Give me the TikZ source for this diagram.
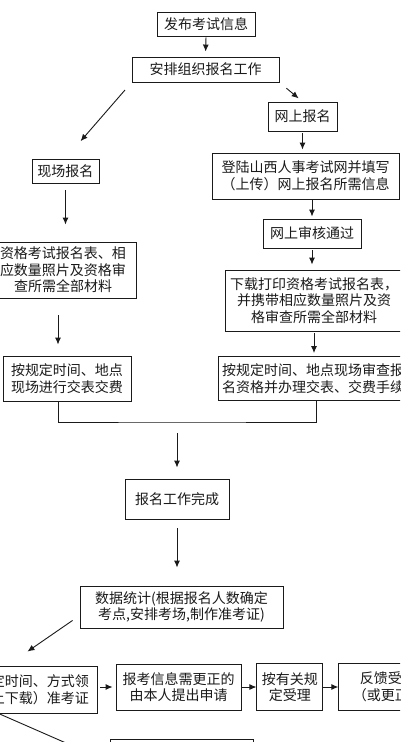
\documentclass[tikz,border=0pt]{standalone}
\usepackage{fontspec}
\usepackage{tikz}
\usetikzlibrary{arrows.meta,positioning,calc}
\newfontfamily\cjk{Noto Sans CJK SC}
\definecolor{Ink}{HTML}{1A1A1A}
\tikzset{
  stepbox/.style={draw=Ink, line width=0.9pt, fill=white, inner sep=0pt, align=center, text=Ink, font=\cjk\fontsize{14}{16.5}\selectfont},
  arr/.style={-{Latex[length=7pt,width=6pt]}, line width=0.9pt, draw=Ink},
  link/.style={line width=0.9pt, draw=Ink}
}

\begin{document}
\begin{tikzpicture}[x=1pt,y=-1pt]
\useasboundingbox (0,0) rectangle (400,742);
\fill[white] (0,0) rectangle (400,742);
\clip (0,0) rectangle (400,742);
% top
\node[stepbox,minimum width=98pt,minimum height=24pt] (pub) at (206,24) {发布考试信息};
\node[stepbox,minimum width=147pt,minimum height=25pt] (plan) at (205.5,69.5) {安排组织报名工作};
% left column
\node[stepbox,minimum width=67pt,minimum height=24pt] (onsite) at (65.5,171) {现场报名};
\node[stepbox,minimum width=146pt,minimum height=56pt] (papers) at (63,270) {资格考试报名表、相\\应数量照片及资格审\\查所需全部材料};
\node[stepbox,minimum width=128pt,minimum height=45pt] (payleft) at (67,378.5) {按规定时间、地点\\现场进行交表交费};
% right column
\node[stepbox,minimum width=69pt,minimum height=29pt] (online) at (302.5,116.5) {网上报名};
\node[stepbox,minimum width=187pt,minimum height=46pt] (login) at (305.5,176) {登陆山西人事考试网并填写\\（上传）网上报名所需信息};
\node[stepbox,minimum width=98pt,minimum height=29pt] (audit) at (312,233.5) {网上审核通过};
\node[stepbox,minimum width=178pt,minimum height=61pt] (print) at (314,300.5) {下载打印资格考试报名表，\\并携带相应数量照片及资\\格审查所需全部材料};
\node[stepbox,minimum width=190pt,minimum height=44pt] (payright) at (313,378.5) {按规定时间、地点现场审查报\\名资格并办理交表、交费手续};
% middle
\coordinate (merge) at (177,422);
\node[stepbox,minimum width=104pt,minimum height=40pt] (done) at (177,499) {报名工作完成};
\node[stepbox,minimum width=203pt,minimum height=42pt] (stats) at (181.5,607) {数据统计(根据报名人数确定\\考点,安排考场,制作准考证)};
% bottom row
\node[stepbox,align=right,minimum width=170pt,minimum height=47pt] (admit) at (12,689.5) {按规定时间、方式领\\取（或网上下载）准考证};
\node[stepbox,minimum width=125pt,minimum height=46pt] (correct) at (178.5,687) {报考信息需更正的\\由本人提出申请};
\node[stepbox,minimum width=66pt,minimum height=47pt,right=15pt of correct] (accept) {按有关规\\定受理};
\node[stepbox,minimum width=126pt,minimum height=47pt,right=15pt of accept] (reply) {反馈受理结果\\（或更正结果）};
\node[stepbox,minimum width=143pt,minimum height=42pt] (next) at (181.5,760) {};
\coordinate (down) at (130,771);

\draw[arr,shorten <=1pt,shorten >=5pt] (pub.south) -- (plan.north);
\draw[arr,shorten <=9pt,shorten >=5pt] (plan.south east) -- (online.north);
\draw[arr,shorten <=10pt,shorten >=23pt] (plan.south west) -- (onsite.north);
\draw[arr,shorten <=7pt,shorten >=17pt] (onsite.south) -- (onsite.south |- papers.north);
\draw[arr,shorten <=17pt,shorten >=11pt] ([xshift=-5pt]papers.south) -- ([xshift=-5pt]papers.south |- payleft.north);
\draw[arr,shorten <=2pt,shorten >=3pt] (online.south) -- (online.south |- login.north);
\draw[arr,shorten <=1pt,shorten >=2pt] (login.south -| audit.north) -- (audit.north);
\draw[arr,shorten <=2pt,shorten >=5pt] (audit.south) -- (audit.south |- print.north);
\draw[arr,shorten <=2pt,shorten >=3pt] (print.south) -- (print.south |- payright.north);
\draw[link] ([xshift=-9pt]payleft.south) |- (merge) -| ([xshift=3pt]payright.south);
\draw[arr,shorten <=11pt,shorten >=11pt] (merge) -- (done.north);
\draw[arr,shorten <=9pt,shorten >=18pt] (done.south) -- (done.south |- stats.north);
\draw[arr] ($(stats.south west)+(-7,-8)$) -- ($(admit.north east)+(-70,-14)$);
\draw[arr,shorten <=3pt,shorten >=3pt] (admit.east |- correct.west) -- (correct.west);
\draw[arr] (correct.east) -- (accept.west);
\draw[arr] (accept.east) -- (reply.west);
\draw[arr] ($(admit.south east)+(-99,0)$) -- (down);
\end{tikzpicture}
\end{document}
